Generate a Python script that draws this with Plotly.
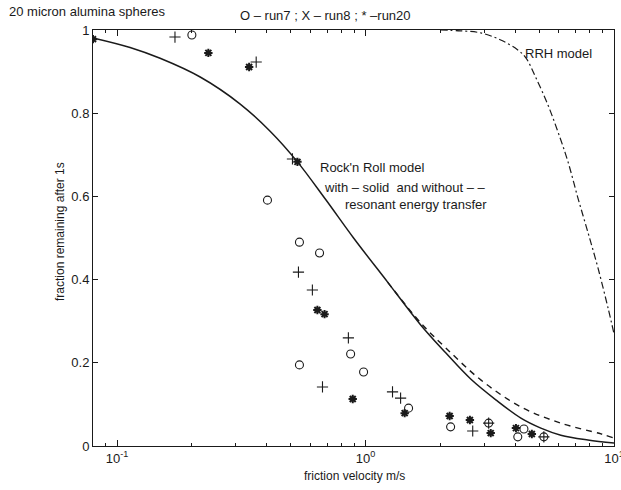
import plotly.graph_objects as go

# ---------------- data ----------------
run7_x = [0.200, 0.403, 0.542, 0.653, 0.871, 0.542, 0.982, 1.490, 2.20, 3.13, 4.10, 4.34, 5.22]
run7_y = [0.988, 0.591, 0.490, 0.464, 0.221, 0.195, 0.178, 0.091, 0.046, 0.055, 0.022, 0.041, 0.022]

run8_x = [0.171, 0.363, 0.508, 0.537, 0.611, 0.853, 0.671, 1.284, 1.384, 2.70, 3.13, 5.22]
run8_y = [0.983, 0.923, 0.690, 0.418, 0.375, 0.260, 0.142, 0.130, 0.115, 0.036, 0.055, 0.022]

run20_x = [0.080, 0.233, 0.340, 0.532, 0.640, 0.684, 0.888, 1.437, 2.18, 2.63, 3.19, 4.03, 4.67]
run20_y = [0.978, 0.945, 0.911, 0.683, 0.327, 0.317, 0.113, 0.079, 0.072, 0.0625, 0.031, 0.043, 0.029]

rnr_solid_x = [0.080, 0.1128, 0.149, 0.216, 0.313, 0.414, 0.532, 0.690, 0.895, 1.227, 1.667,
               2.102, 2.65, 3.345, 4.22, 5.077, 6.11, 7.85, 10.0]
rnr_solid_y = [0.981, 0.958, 0.932, 0.887, 0.822, 0.756, 0.683, 0.593, 0.500, 0.394, 0.291,
               0.224, 0.161, 0.111, 0.067, 0.043, 0.026, 0.0144, 0.007]

rnr_dash_x = [1.227, 1.667, 2.102, 2.909, 4.22, 6.11, 8.866, 10.0]
rnr_dash_y = [0.394, 0.296, 0.236, 0.159, 0.094, 0.055, 0.029, 0.019]

rrh_x = [2.00, 2.41, 2.91, 3.50, 4.10, 4.42, 4.85, 5.42, 5.95, 6.53, 7.16, 7.85, 8.62, 9.46, 10.0]
rrh_y = [1.000, 0.998, 0.993, 0.976, 0.952, 0.933, 0.885, 0.820, 0.755, 0.683, 0.596, 0.514, 0.428, 0.332, 0.270]

x_tickvals = [0.1, 1, 10]
x_ticktext = ["10<sup>-1</sup>", "10<sup>0</sup>", "10<sup>1</sup>"]
x_minor = [0.08, 0.09, 0.2, 0.3, 0.4, 0.5, 0.6, 0.7, 0.8, 0.9,
           2, 3, 4, 5, 6, 7, 8, 9]
y_tickvals = [0, 0.2, 0.4, 0.6, 0.8, 1]
y_ticktext = ["0", "0.2", "0.4", "0.6", "0.8", "1"]

# ---------------- layout geometry ----------------
W, H = 621, 490
L, R, T, B = 93, 614, 30, 446
FONT = "Arial, Liberation Sans, Helvetica, sans-serif"
INK = "#1a1a1a"


def px(xp):
    return (xp - L) / (R - L)


def py(yp):
    return (B - yp) / (B - T)


fig = go.Figure()

fig.add_trace(go.Scatter(x=rnr_dash_x, y=rnr_dash_y, mode="lines",
                         line=dict(color=INK, width=1.4, dash="6px,5px"), line_shape="spline",
                         showlegend=False))
fig.add_trace(go.Scatter(x=rnr_solid_x, y=rnr_solid_y, mode="lines",
                         line=dict(color=INK, width=1.5), line_shape="spline",
                         showlegend=False))
fig.add_trace(go.Scatter(x=rrh_x, y=rrh_y, mode="lines",
                         line=dict(color=INK, width=1.2, dash="7px,3px,2px,3px"), line_shape="spline",
                         showlegend=False))

fig.add_trace(go.Scatter(x=run7_x, y=run7_y, mode="markers",
                         marker=dict(symbol="circle-open", size=8, color=INK, line=dict(width=1.1)),
                         showlegend=False))
fig.add_trace(go.Scatter(x=run8_x, y=run8_y, mode="markers",
                         marker=dict(symbol="cross-thin-open", size=8, color=INK, line=dict(width=1.1)),
                         showlegend=False))
fig.add_trace(go.Scatter(x=run20_x, y=run20_y, mode="markers",
                         marker=dict(symbol="asterisk-open", size=7, color=INK, line=dict(width=2)),
                         showlegend=False))

annots = [
    dict(text="20 micron alumina spheres", x=px(7), y=py(11), xanchor="left", size=13),
    dict(text="O – run7 ; X – run8 ; * –run20", x=px(325), y=py(15), xanchor="center", size=13),
    dict(text="Rock'n Roll model", x=px(318), y=py(167), xanchor="left", size=13),
    dict(text="with – solid  and without – –", x=px(322), y=py(187), xanchor="left", size=13),
    dict(text="resonant energy transfer", x=px(343), y=py(205), xanchor="left", size=13),
    dict(text="RRH model", x=px(523), y=py(53), xanchor="left", size=13),
    dict(text="friction velocity m/s", x=px(354), y=py(476), xanchor="center", size=12),
]
for a in annots:
    fig.add_annotation(text=a["text"], x=a["x"], y=a["y"], xref="paper", yref="paper",
                       xanchor=a["xanchor"], yanchor="middle", showarrow=False,
                       font=dict(family=FONT, size=a["size"], color=INK))
fig.add_annotation(text="fraction remaining after 1s", x=px(60), y=py(232), xref="paper", yref="paper",
                   xanchor="center", yanchor="middle", textangle=-90, showarrow=False,
                   font=dict(family=FONT, size=12, color=INK))

fig.update_layout(
    width=W, height=H,
    margin=dict(l=L, r=W - R, t=T, b=H - B, autoexpand=False),
    paper_bgcolor="white", plot_bgcolor="white",
    font=dict(family=FONT, size=13, color=INK),
    showlegend=False,
)
fig.update_xaxes(
    type="log", range=[-1.0969, 1.0], tickvals=x_tickvals, ticktext=x_ticktext,
    ticks="inside", ticklen=6, tickwidth=1, tickcolor=INK, ticklabeloverflow="allow",
    minor=dict(tickvals=x_minor, ticks="inside", ticklen=3, tickcolor=INK, showgrid=False),
    showline=True, linecolor=INK, linewidth=1, mirror="ticks", showgrid=False, zeroline=False,
    tickfont=dict(family=FONT, size=13, color=INK), automargin=False,
)
fig.update_yaxes(
    range=[0, 1], tickvals=y_tickvals, ticktext=y_ticktext,
    ticks="inside", ticklen=5, tickwidth=1, tickcolor=INK,
    showline=True, linecolor=INK, linewidth=1, mirror="ticks", showgrid=False, zeroline=False,
    tickfont=dict(family=FONT, size=13, color=INK), automargin=False,
)

fig.write_html("out.html")
